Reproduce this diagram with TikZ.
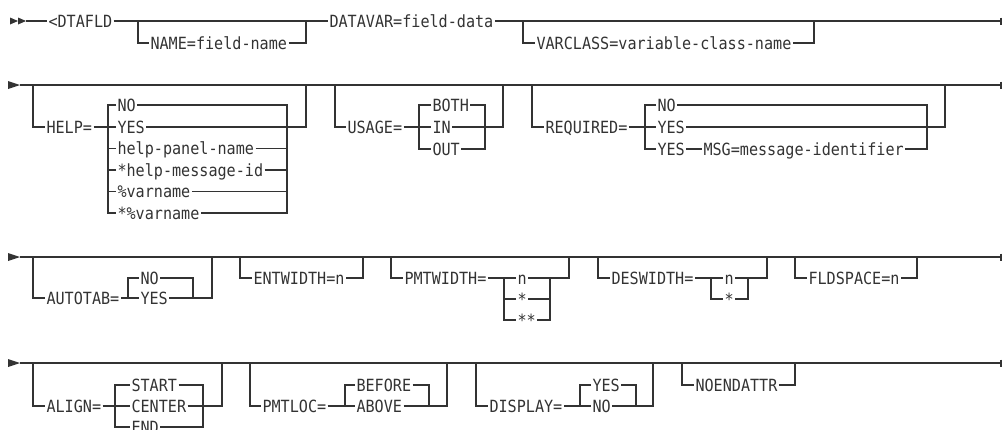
\documentclass[tikz,border=0pt]{standalone}
\usepackage{fontspec}
\newfontfamily\monofam[FakeStretch=0.9]{DejaVu Sans Mono}
\newcommand\kwf{\monofam\fontsize{16.8pt}{20pt}\selectfont}
\definecolor{ink}{HTML}{333333}
\begin{document}
\begin{tikzpicture}[x=1pt,y=-1pt,
  rr/.style={draw=ink,line width=1.4pt},
  kw/.style={font=\kwf,text=ink,anchor=west,inner xsep=1.3pt,inner ysep=0pt,text height=12.2pt,text depth=0pt},
  tickmark/.style={draw=ink,line width=1.4pt},
  startmark/.style={fill=ink}]
\useasboundingbox (0,0) rectangle (1003,429);

% ---------------- Row 1 ----------------
\fill[startmark] (10,17.5) -- (18,21) -- (10,24.5) -- cycle;
\fill[startmark] (18,17.5) -- (26,21) -- (18,24.5) -- cycle;
\coordinate (s1) at (26,21);
\coordinate (e1) at (1001,21);
\node[kw] (dtafld) at (47,21) {<DTAFLD};
\node[kw] (datavar) at (328,21) {DATAVAR=field-data};
\node[kw] (name) at (149,43) {NAME=field-name};
\node[kw] (varclass) at (535,43) {VARCLASS=variable-class-name};
\coordinate (b1l) at (138,21); \coordinate (b1r) at (306,21);
\coordinate (b2l) at (523,21); \coordinate (b2r) at (814,21);
\draw[rr] (s1) -- (dtafld.west) (dtafld.east) -- (datavar.west) (datavar.east) -- (e1);
\draw[rr] (b1l) |- (name.west) (name.east) -| (b1r);
\draw[rr] (b2l) |- (varclass.west) (varclass.east) -| (b2r);
\draw[tickmark] ([yshift=3.5pt]e1) -- ([yshift=-3.5pt]e1);

% ---------------- Row 2 ----------------
\fill[startmark] (8,81) -- (20,85) -- (8,89) -- cycle;
\coordinate (s2) at (20,85);
\coordinate (e2) at (1001,85);
\draw[rr] (s2) -- (e2);
\draw[tickmark] ([yshift=3.5pt]e2) -- ([yshift=-3.5pt]e2);
% HELP
\coordinate (hb1) at (33,85); \coordinate (hb2) at (306,85);
\node[kw] (help) at (45,127) {HELP=};
\coordinate (hL) at (108,213); \coordinate (hR) at (287,213);
\node[kw] (hno) at (116,105) {NO};
\node[kw] (hyes) at (116,127) {YES};
\node[kw] (hpanel) at (116,148.5) {help-panel-name};
\node[kw] (hmsg) at (116,170) {*help-message-id};
\node[kw] (hvar) at (116,191.5) {\%varname};
\node[kw] (hvarb) at (116,213) {*\%varname};
\draw[rr] (hb1) |- (help.west) (help.east) -- (help.east -| hL);
\draw[rr] (hno.west) -| (hL) -- (hvarb.west);
\draw[rr] (hno.east) -| (hR) -- (hvarb.east);
\foreach \n in {hyes,hpanel,hmsg,hvar}
  \draw[rr] (\n.west) -- (\n.west -| hL) (\n.east) -- (\n.east -| hR);
\draw[rr] (hyes.east) -| (hb2);
% USAGE
\coordinate (ub1) at (335,85); \coordinate (ub2) at (503,85);
\node[kw] (usage) at (346,127) {USAGE=};
\coordinate (uL) at (419,149); \coordinate (uR) at (485,149);
\node[kw] (uboth) at (431,105) {BOTH};
\node[kw] (uin) at (431,127) {IN};
\node[kw] (uout) at (431,149) {OUT};
\draw[rr] (ub1) |- (usage.west) (usage.east) -- (uin.west);
\draw[rr] (uboth.west) -| (uL) -- (uout.west);
\draw[rr] (uboth.east) -| (uR) -- (uout.east);
\draw[rr] (uin.east) -| (ub2);
% REQUIRED
\coordinate (qb1) at (532,85); \coordinate (qb2) at (945,85);
\node[kw] (req) at (544,127) {REQUIRED=};
\coordinate (qL) at (645,149); \coordinate (qR) at (927,149);
\node[kw] (qno) at (656,105) {NO};
\node[kw] (qyes) at (656,127) {YES};
\node[kw] (qyesb) at (656,149) {YES};
\node[kw] (qmsg) at (702,149) {MSG=message-identifier};
\draw[rr] (qb1) |- (req.west) (req.east) -- (qyes.west);
\draw[rr] (qno.west) -| (qL) -- (qyesb.west);
\draw[rr] (qno.east) -| (qR) -- (qmsg.east);
\draw[rr] (qyesb.east) -- (qmsg.west);
\draw[rr] (qyes.east) -| (qb2);

% ---------------- Row 3 ----------------
\fill[startmark] (8,253) -- (20,257) -- (8,261) -- cycle;
\coordinate (s3) at (20,257);
\coordinate (e3) at (1001,257);
\draw[rr] (s3) -- (e3);
\draw[tickmark] ([yshift=3.5pt]e3) -- ([yshift=-3.5pt]e3);
% AUTOTAB
\coordinate (ab1) at (33,257); \coordinate (ab2) at (212,257);
\node[kw] (autotab) at (45,298) {AUTOTAB=};
\coordinate (aL) at (128,298); \coordinate (aR) at (193,298);
\node[kw] (ano) at (139,278) {NO};
\node[kw] (ayes) at (139,298) {YES};
\draw[rr] (ab1) |- (autotab.west) (autotab.east) -- (ayes.west);
\draw[rr] (ano.west) -| (aL);
\draw[rr] (ano.east) -| (aR);
\draw[rr] (ayes.east) -| (ab2);
% ENTWIDTH
\coordinate (nb1) at (240,257); \coordinate (nb2) at (363,257);
\node[kw] (entw) at (252,278) {ENTWIDTH=n};
\draw[rr] (nb1) |- (entw.west) (entw.east) -| (nb2);
% PMTWIDTH
\coordinate (pb1) at (391,257); \coordinate (pb2) at (569,257);
\node[kw] (pmtw) at (403,278) {PMTWIDTH=};
\coordinate (pL) at (504,320); \coordinate (pR) at (550,320);
\node[kw] (pn) at (516,278) {n};
\node[kw] (pst) at (516,299) {*};
\node[kw] (psts) at (516,320) {**};
\draw[rr] (pb1) |- (pmtw.west) (pmtw.east) -- (pn.west);
\draw[rr] (pn.west -| pL) -- (pL) -- (psts.west);
\draw[rr] (pst.west) -- (pst.west -| pL);
\draw[rr] (pn.east) -| (pb2);
\draw[rr] (pn.east -| pR) -- (pR) -- (psts.east);
\draw[rr] (pst.east) -- (pst.east -| pR);
% DESWIDTH
\coordinate (db1) at (598,257); \coordinate (db2) at (767,257);
\node[kw] (desw) at (610,278) {DESWIDTH=};
\coordinate (dL) at (711,299); \coordinate (dR) at (748,299);
\node[kw] (dn) at (723,278) {n};
\node[kw] (dst) at (723,299) {*};
\draw[rr] (db1) |- (desw.west) (desw.east) -- (dn.west);
\draw[rr] (dn.west -| dL) -- (dL) -- (dst.west);
\draw[rr] (dn.east) -| (db2);
\draw[rr] (dn.east -| dR) -- (dR) -- (dst.east);
% FLDSPACE
\coordinate (fb1) at (795,257); \coordinate (fb2) at (917,257);
\node[kw] (flds) at (807,278) {FLDSPACE=n};
\draw[rr] (fb1) |- (flds.west) (flds.east) -| (fb2);

% ---------------- Row 4 ----------------
\fill[startmark] (8,359) -- (20,363) -- (8,367) -- cycle;
\coordinate (s4) at (20,363);
\coordinate (e4) at (1001,363);
\draw[rr] (s4) -- (e4);
\draw[tickmark] ([yshift=3.5pt]e4) -- ([yshift=-3.5pt]e4);
% ALIGN
\coordinate (lb1) at (33,363); \coordinate (lb2) at (222,363);
\node[kw] (align) at (45,406) {ALIGN=};
\coordinate (lL) at (115,427); \coordinate (lR) at (203,427);
\node[kw] (lstart) at (130,385) {START};
\node[kw] (lcenter) at (130,406) {CENTER};
\node[kw] (lend) at (130,427) {END};
\draw[rr] (lb1) |- (align.west) (align.east) -- (lcenter.west);
\draw[rr] (lstart.west) -| (lL) -- (lend.west);
\draw[rr] (lstart.east) -| (lR) -- (lend.east);
\draw[rr] (lcenter.east) -| (lb2);
% PMTLOC
\coordinate (mb1) at (250,363); \coordinate (mb2) at (447,363);
\node[kw] (pmtloc) at (261,406) {PMTLOC=};
\coordinate (mL) at (345,406); \coordinate (mR) at (429,406);
\node[kw] (mbefore) at (355,385) {BEFORE};
\node[kw] (mabove) at (355,406) {ABOVE};
\draw[rr] (mb1) |- (pmtloc.west) (pmtloc.east) -- (mabove.west);
\draw[rr] (mbefore.west) -| (mL);
\draw[rr] (mbefore.east) -| (mR);
\draw[rr] (mabove.east) -| (mb2);
% DISPLAY
\coordinate (sb1) at (476,363); \coordinate (sb2) at (653,363);
\node[kw] (display) at (488,406) {DISPLAY=};
\coordinate (sL) at (580,406); \coordinate (sR) at (636,406);
\node[kw] (syes) at (591,385) {YES};
\node[kw] (sno) at (591,406) {NO};
\draw[rr] (sb1) |- (display.west) (display.east) -- (sno.west);
\draw[rr] (syes.west) -| (sL);
\draw[rr] (syes.east) -| (sR);
\draw[rr] (sno.east) -| (sb2);
% NOENDATTR
\coordinate (xb1) at (682,363); \coordinate (xb2) at (795,363);
\node[kw] (noend) at (694,385) {NOENDATTR};
\draw[rr] (xb1) |- (noend.west) (noend.east) -| (xb2);
\end{tikzpicture}
\end{document}
